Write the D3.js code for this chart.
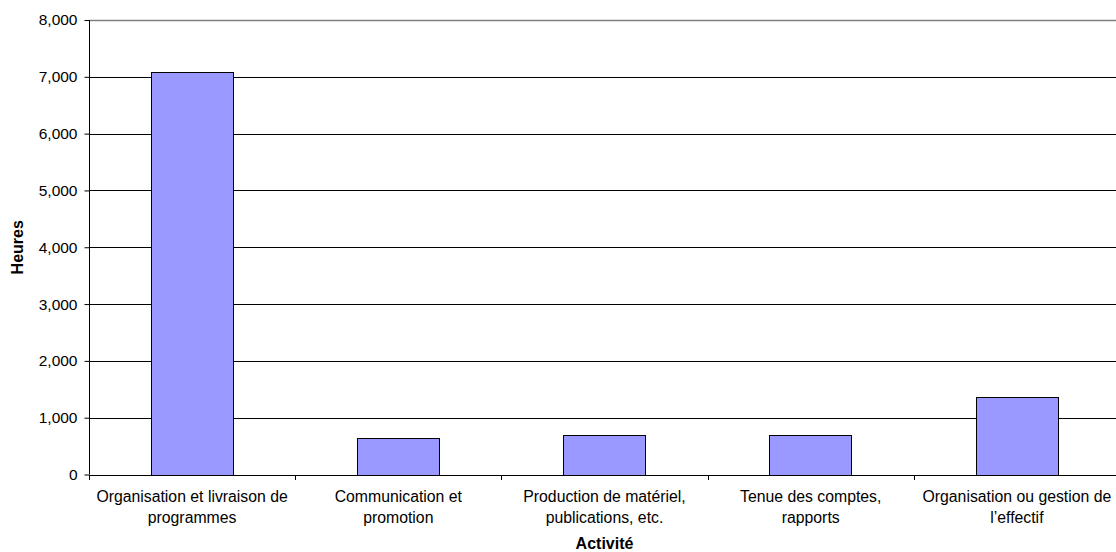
<!DOCTYPE html>
<html>
<head>
<meta charset="utf-8">
<script src="https://cdn.jsdelivr.net/npm/d3@7"></script>
<style>
  body { margin: 0; background: #fff; }
  text { font-family: "Liberation Sans", Arial, sans-serif; fill: #000; }
</style>
</head>
<body>
<svg width="1116" height="552"></svg>
<script>
// data
var categories = [
  ['Organisation et livraison de', 'programmes'],
  ['Communication et', 'promotion'],
  ['Production de matériel,', 'publications, etc.'],
  ['Tenue des comptes,', 'rapports'],
  ['Organisation ou gestion de', 'l\u2019effectif']
];
var hours = [7080, 650, 690, 690, 1365];
var yTicks = [0, 1000, 2000, 3000, 4000, 5000, 6000, 7000, 8000];

var svg = d3.select('svg');
var plotL = 89, plotT = 20, plotB = 474.5, plotR = 1120;

var x = d3.scaleBand()
    .domain(d3.range(categories.length))
    .range([plotL, plotR])
    .paddingInner(0)
    .paddingOuter(0);

var y = d3.scaleLinear()
    .domain([0, 8000])
    .range([plotB, plotT]);

// gridlines
svg.append('g')
    .selectAll('line')
    .data(yTicks.filter(function (d) { return d > 0; }))
    .enter()
    .append('line')
    .attr('x1', plotL)
    .attr('x2', plotR)
    .attr('y1', function (d) { return Math.round(y(d)) + 0.5; })
    .attr('y2', function (d) { return Math.round(y(d)) + 0.5; })
    .attr('stroke', function (d) { return d === 8000 ? '#808080' : '#000'; })
    .attr('stroke-width', function (d) { return d === 8000 ? 1.5 : 1; });

// bars
var barW = x.bandwidth() / 2.5;
svg.append('g')
    .selectAll('rect')
    .data(hours)
    .enter()
    .append('rect')
    .attr('x', function (d, i) { return Math.round(x(i) + (x.bandwidth() - barW) / 2) + 0.5; })
    .attr('y', function (d) { return Math.round(y(d)) + 0.5; })
    .attr('width', Math.round(barW))
    .attr('height', function (d) { return Math.round(y(0)) - Math.round(y(d)); })
    .attr('fill', '#9999ff')
    .attr('stroke', '#000')
    .attr('stroke-width', 1);

// y axis
var yAxis = svg.append('g')
    .attr('transform', 'translate(' + (plotL + 0.5) + ',0)')
    .call(d3.axisLeft(y)
        .tickValues(yTicks)
        .tickSize(5)
        .tickPadding(7)
        .tickFormat(d3.format(',')));
yAxis.select('.domain').attr('stroke', '#000').attr('d', 'M0,' + plotT + 'V' + plotB);
yAxis.selectAll('.tick line').attr('stroke', '#000');
yAxis.selectAll('.tick text')
    .style('font-size', '15.5px')
    .attr('fill', '#000')
    .attr('font-family', null);

// x axis line + ticks at band boundaries
var xBounds = d3.range(categories.length + 1).map(function (i) { return plotL + i * x.bandwidth(); });
svg.append('line')
    .attr('x1', plotL).attr('x2', plotR)
    .attr('y1', Math.round(plotB) + 0.5).attr('y2', Math.round(plotB) + 0.5)
    .attr('stroke', '#000');
svg.append('g')
    .selectAll('line')
    .data(xBounds)
    .enter()
    .append('line')
    .attr('x1', function (d) { return Math.round(d) + 0.5; })
    .attr('x2', function (d) { return Math.round(d) + 0.5; })
    .attr('y1', Math.round(plotB))
    .attr('y2', Math.round(plotB) + 5)
    .attr('stroke', '#000');

// category labels
var lab = svg.append('g')
    .selectAll('text')
    .data(categories)
    .enter()
    .append('text')
    .attr('text-anchor', 'middle')
    .style('font-size', '15.8px')
    .attr('x', function (d, i) { return x(i) + x.bandwidth() / 2; });
lab.selectAll('tspan')
    .data(function (d) { return d; })
    .enter()
    .append('tspan')
    .attr('x', function () { return d3.select(this.parentNode).attr('x'); })
    .attr('y', function (d, i) { return 502 + i * 21; })
    .text(function (d) { return d; });

// axis titles
svg.append('text')
    .attr('transform', 'translate(23,' + ((plotT + plotB) / 2) + ') rotate(-90)')
    .attr('text-anchor', 'middle')
    .style('font-size', '16px')
    .style('font-weight', 'bold')
    .text('Heures');

svg.append('text')
    .attr('x', (plotL + plotR) / 2)
    .attr('y', 549)
    .attr('text-anchor', 'middle')
    .style('font-size', '16px')
    .style('font-weight', 'bold')
    .text('Activité');
</script>
</body>
</html>
